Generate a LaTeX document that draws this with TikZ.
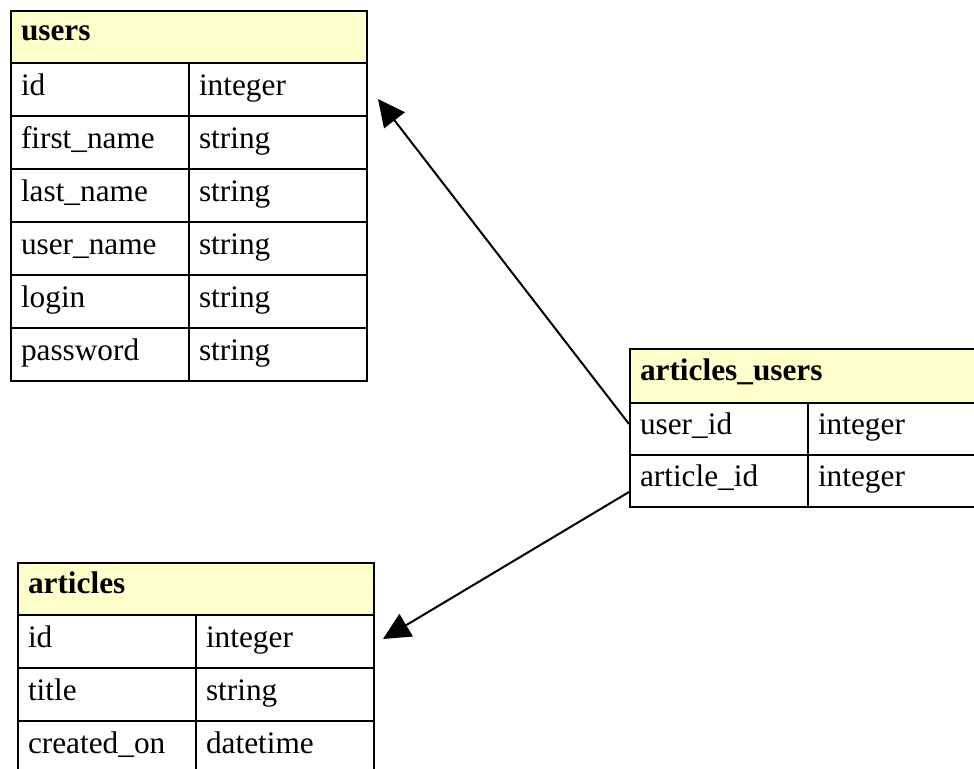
\documentclass[tikz,border=0pt]{standalone}
\usepackage{fontspec}
\setmainfont{Liberation Serif}
\usetikzlibrary{arrows.meta}
\definecolor{hdrfill}{HTML}{FFFFCC}
\tikzset{
  cell/.style={draw=black, line width=2pt, anchor=north west,
    minimum height=53pt, text width=158pt, inner xsep=10pt, inner ysep=0pt,
    text height=21pt, text depth=10pt, align=left,
    font=\fontsize{31.3}{37}\selectfont},
  hdr/.style={cell, fill=hdrfill, minimum height=52pt, text width=336pt,
    text height=19pt, text depth=11pt,
    font=\fontsize{31.3}{37}\selectfont\bfseries},
  conn/.style={draw=black, line width=2pt, -{Triangle[length=27pt,width=26pt]}}
}
\begin{document}
\begin{tikzpicture}[x=1pt,y=-1pt]
\useasboundingbox (0,0) rectangle (974,768);
\clip (0,0) rectangle (974,768);
% users
\node[hdr] (uh) at (10,10) {users};
\node[cell] (u1a) at (10,62) {id};          \node[cell] (u1b) at (188,62) {integer};
\node[cell] (u2a) at (10,115) {first\_name}; \node[cell] (u2b) at (188,115) {string};
\node[cell] (u3a) at (10,168) {last\_name};  \node[cell] (u3b) at (188,168) {string};
\node[cell] (u4a) at (10,221) {user\_name};  \node[cell] (u4b) at (188,221) {string};
\node[cell] (u5a) at (10,274) {login};       \node[cell] (u5b) at (188,274) {string};
\node[cell] (u6a) at (10,327) {password};    \node[cell] (u6b) at (188,327) {string};
% articles_users
\node[hdr, minimum height=54pt] (auh) at (629,348) {articles\_users};
\node[cell, minimum height=52pt] (au1a) at (629,402) {user\_id};    \node[cell, minimum height=52pt] (au1b) at (807,402) {integer};
\node[cell, minimum height=52pt] (au2a) at (629,454) {article\_id}; \node[cell, minimum height=52pt] (au2b) at (807,454) {integer};
% articles
\node[hdr] (ah) at (17,562) {articles};
\node[cell] (a1a) at (17,614) {id};          \node[cell] (a1b) at (195,614) {integer};
\node[cell] (a2a) at (17,667) {title};       \node[cell] (a2b) at (195,667) {string};
\node[cell] (a3a) at (17,720) {created\_on}; \node[cell] (a3b) at (195,720) {datetime};
% connectors
\coordinate (ut) at (378,99);
\coordinate (at) at (383,639);
\draw[conn] ([yshift=5pt]au1a.west) -- (ut);
\draw[conn] ([yshift=-11pt]au2a.west) -- (at);
\end{tikzpicture}
\end{document}
